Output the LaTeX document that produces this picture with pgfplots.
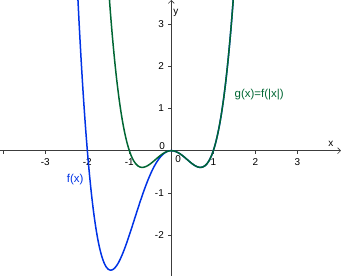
\documentclass[border=0pt]{standalone}
\usepackage{pgfplots}
\pgfplotsset{compat=1.18}
\usepackage{fontspec}
\setmainfont{Liberation Sans}
\usetikzlibrary{arrows.meta}
\definecolor{fblue}{RGB}{0,51,230}
\definecolor{ggreen}{RGB}{0,102,51}
\definecolor{axgray}{RGB}{60,60,60}
\pgfplotstableread{
x y
-2.25 4.113
-2.2 3.098
-2.15 2.184
-2.1 1.367
-2.05 0.641
-2.0 0
-1.95 -0.561
-1.9 -1.047
-1.85 -1.463
-1.8 -1.814
-1.75 -2.105
-1.7 -2.341
-1.65 -2.525
-1.6 -2.662
-1.55 -2.757
-1.5 -2.8125
-1.45 -2.833
-1.4 -2.822
-1.35 -2.784
-1.3 -2.721
-1.25 -2.637
-1.2 -2.534
-1.15 -2.417
-1.1 -2.287
-1.05 -2.147
-1.0 -2.0
-0.95 -1.848
-0.9 -1.693
-0.85 -1.537
-0.8 -1.382
-0.75 -1.230
-0.7 -1.083
-0.65 -0.941
-0.6 -0.806
-0.55 -0.680
-0.5 -0.5625
-0.45 -0.455
-0.4 -0.358
-0.35 -0.273
-0.3 -0.199
-0.25 -0.137
-0.2 -0.0864
-0.15 -0.0479
-0.1 -0.0209
-0.05 -0.0051
0 0
0.05 -0.0049
0.1 -0.0189
0.15 -0.0411
0.2 -0.0704
0.25 -0.1055
0.3 -0.1449
0.35 -0.1871
0.4 -0.2304
0.45 -0.2729
0.5 -0.3125
0.55 -0.3471
0.6 -0.3744
0.65 -0.3919
0.7 -0.3969
0.75 -0.3867
0.8 -0.3584
0.85 -0.3089
0.9 -0.2349
0.95 -0.1331
1.0 0
1.05 0.1681
1.1 0.3751
1.15 0.6249
1.2 0.9216
1.25 1.2695
1.3 1.6731
1.35 2.1369
1.4 2.6656
1.45 3.2641
1.5 3.9375
}\ftable
\pgfplotstableread{
x y
-1.5 3.9375
-1.45 3.2641
-1.4 2.6656
-1.35 2.1369
-1.3 1.6731
-1.25 1.2695
-1.2 0.9216
-1.15 0.6249
-1.1 0.3751
-1.05 0.1681
-1.0 0
-0.95 -0.1331
-0.9 -0.2349
-0.85 -0.3089
-0.8 -0.3584
-0.75 -0.3867
-0.7 -0.3969
-0.65 -0.3919
-0.6 -0.3744
-0.55 -0.3471
-0.5 -0.3125
-0.45 -0.2729
-0.4 -0.2304
-0.35 -0.1871
-0.3 -0.1449
-0.25 -0.1055
-0.2 -0.0704
-0.15 -0.0411
-0.1 -0.0189
-0.05 -0.0049
0 0
0.05 -0.0049
0.1 -0.0189
0.15 -0.0411
0.2 -0.0704
0.25 -0.1055
0.3 -0.1449
0.35 -0.1871
0.4 -0.2304
0.45 -0.2729
0.5 -0.3125
0.55 -0.3471
0.6 -0.3744
0.65 -0.3919
0.7 -0.3969
0.75 -0.3867
0.8 -0.3584
0.85 -0.3089
0.9 -0.2349
0.95 -0.1331
1.0 0
1.05 0.1681
1.1 0.3751
1.15 0.6249
1.2 0.9216
1.25 1.2695
1.3 1.6731
1.35 2.1369
1.4 2.6656
1.45 3.2641
1.5 3.9375
}\gtable
\begin{document}
\begin{tikzpicture}
\begin{axis}[
  scale only axis,
  width=341bp, height=276bp,
  xmin=-4.08, xmax=4.04,
  ymin=-2.97, ymax=3.57,
  axis lines=middle,
  axis line style={axgray, line width=0.6pt, -{Straight Barb[length=3pt,width=6pt]}},
  xtick={-4,-3,-2,-1,1,2,3},
  xticklabels={,-3,-2,-1,1,2,3},
  ytick={-2,-1,1,2,3},
  yticklabels={-2,-1,1,2,3},
  tick align=outside,
  major tick length=3bp,
  tick style={axgray, line width=0.6pt},
  ticklabel style={font=\fontsize{10}{12}\selectfont, text=black},
  xticklabel style={yshift=-1bp},
  yticklabel style={xshift=-1bp},
  clip=true,
]
\addplot[fblue, line width=1.5bp, smooth] table[x=x,y=y] {\ftable};
\addplot[ggreen, line width=1.5bp, smooth] table[x=x,y=y] {\gtable};
\node[font=\fontsize{10}{12}\selectfont] at (axis cs:-0.22,0.12) {0};
\node[font=\fontsize{10}{12}\selectfont] at (axis cs:0.16,-0.2) {0};
\node[font=\fontsize{10}{12}\selectfont] at (axis cs:3.8,0.15) {x};
\node[font=\fontsize{10}{12}\selectfont] at (axis cs:0.11,3.27) {y};
\node[font=\fontsize{11.5}{13}\selectfont, text=fblue] at (axis cs:-2.29,-0.68) {f(x)};
\node[font=\fontsize{11.5}{13}\selectfont, text=ggreen] at (axis cs:2.09,1.34) {g(x)=f(|x|)};
\end{axis}
\pgfresetboundingbox
\path[use as bounding box] (current axis.south west) rectangle (current axis.north east);
\end{tikzpicture}
\end{document}
